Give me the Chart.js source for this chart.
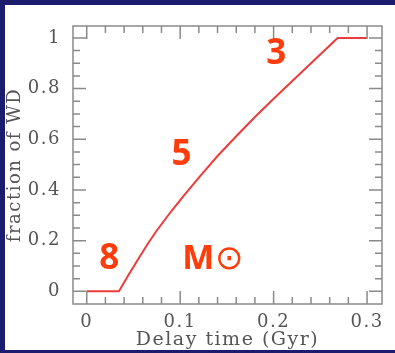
<!DOCTYPE html>
<html>
<head>
<meta charset="utf-8">
<script src="https://cdn.jsdelivr.net/npm/chart.js@4.4.0/dist/chart.umd.min.js"></script>
<style>
  html, body { margin: 0; padding: 0; background: #1c1c6e; }
  #panel { position: absolute; left: 5px; top: 5px; width: 390px; height: 345px; background: #ffffff; }
  #wdChart { display: block; }
</style>
</head>
<body>
<div id="panel"><canvas id="wdChart" width="390" height="345"></canvas></div>
<script>
// Fraction of WD vs delay time
const delayTime = [0, 0.0345, 0.045, 0.055, 0.065, 0.075, 0.09, 0.105, 0.12, 0.14, 0.16, 0.18, 0.20, 0.22, 0.24, 0.255, 0.2685, 0.30];
const fractionWD = [0, 0, 0.066, 0.127, 0.186, 0.24, 0.314, 0.383, 0.449, 0.534, 0.612, 0.688, 0.76, 0.83, 0.90, 0.952, 1.0, 1.0];
const xTicks = [0, 0.1, 0.2, 0.3];
const yTicks = [0, 0.2, 0.4, 0.6, 0.8, 1];

// mass labels along the curve (in data units)
const massLabels = [
  { text: "3", x: 0.2028, y: 0.938, font: "bold 35px 'Open Sans', sans-serif" },
  { text: "5", x: 0.1015, y: 0.537, font: "bold 35px 'Open Sans', sans-serif" },
  { text: "8", x: 0.0241, y: 0.126, font: "bold 35px 'Open Sans', sans-serif" },
  { text: "M", x: 0.1193, y: 0.127, font: "bold 34px 'Open Sans', sans-serif" },
  { text: "\u2299", x: 0.1525, y: 0.121, font: "34px 'DejaVu Sans', sans-serif" },
];

const axisGray = "#8a8a8a";
const labelGray = "#555555";
const serif = "'DejaVu Serif', 'Liberation Serif', serif";

// wide letter spacing like the original plot fonts
const spacingPlugin = {
  id: "spacing",
  beforeLayout(chart) { chart.ctx.letterSpacing = "1.5px"; },
  beforeDraw(chart) { chart.ctx.letterSpacing = "1.5px"; },
};

// frame with inward ticks on all four sides, plus the mass labels
const framePlugin = {
  id: "frame",
  afterDraw(chart) {
    const ctx = chart.ctx;
    const a = chart.chartArea;
    const xs = chart.scales.x;
    const ys = chart.scales.y;
    ctx.save();
    ctx.strokeStyle = axisGray;
    ctx.lineWidth = 1.5;
    ctx.strokeRect(a.left, a.top, a.right - a.left, a.bottom - a.top);

    ctx.beginPath();
    for (let v = 0; v <= xs.max + 1e-9; v += 0.02) {
      const px = xs.getPixelForValue(v);
      const major = Math.abs(v * 10 - Math.round(v * 10)) < 1e-6;
      const len = major ? 13 : 7;
      ctx.moveTo(px, a.bottom); ctx.lineTo(px, a.bottom - len);
      ctx.moveTo(px, a.top); ctx.lineTo(px, a.top + len);
    }
    for (let v = 0; v <= ys.max + 1e-9; v += 0.05) {
      const py = ys.getPixelForValue(v);
      const major = Math.abs(v * 5 - Math.round(v * 5)) < 1e-6;
      const len = major ? 13 : 7;
      ctx.moveTo(a.left, py); ctx.lineTo(a.left + len, py);
      ctx.moveTo(a.right, py); ctx.lineTo(a.right - len, py);
    }
    ctx.stroke();

    ctx.letterSpacing = "0px";
    ctx.fillStyle = "#ff3c0a";
    ctx.textAlign = "center";
    ctx.textBaseline = "middle";
    massLabels.forEach((m) => {
      ctx.font = m.font;
      ctx.fillText(m.text, xs.getPixelForValue(m.x), ys.getPixelForValue(m.y));
    });
    ctx.restore();
  },
};

const ctx = document.getElementById("wdChart").getContext("2d");
new Chart(ctx, {
  type: "line",
  data: {
    datasets: [
      {
        data: delayTime.map((t, i) => ({ x: t, y: fractionWD[i] })),
        borderColor: "#ee3b3b",
        borderWidth: 2,
        pointRadius: 0,
        tension: 0,
        fill: false,
      },
    ],
  },
  options: {
    responsive: false,
    animation: false,
    layout: { padding: { left: 0, right: 13, top: 17, bottom: 0 } },
    plugins: { legend: { display: false }, tooltip: { enabled: false } },
    scales: {
      x: {
        type: "linear",
        min: -0.0147,
        max: 0.316,
        grid: { display: false, drawTicks: false },
        border: { display: false },
        afterBuildTicks: (s) => { s.ticks = xTicks.map((v) => ({ value: v })); },
        afterFit: (s) => { s.height = 46; },
        ticks: {
          color: labelGray,
          padding: 9,
          maxRotation: 0,
          font: { family: serif, size: 18, lineHeight: 1 },
          callback: (v) => String(v),
        },
        title: {
          display: true,
          text: "Delay time (Gyr)",
          color: labelGray,
          padding: 0,
          font: { family: serif, size: 19, lineHeight: 1 },
        },
      },
      y: {
        min: -0.05,
        max: 1.047,
        grid: { display: false, drawTicks: false },
        border: { display: false },
        afterBuildTicks: (s) => { s.ticks = yTicks.map((v) => ({ value: v })); },
        afterFit: (s) => { s.width = 68; },
        ticks: {
          color: labelGray,
          padding: 12,
          font: { family: serif, size: 18, lineHeight: 1 },
          callback: (v) => String(v),
        },
        title: {
          display: true,
          text: "fraction of WD",
          color: labelGray,
          padding: 1,
          font: { family: serif, size: 18, lineHeight: 1 },
        },
      },
    },
  },
  plugins: [spacingPlugin, framePlugin],
});
</script>
</body>
</html>
